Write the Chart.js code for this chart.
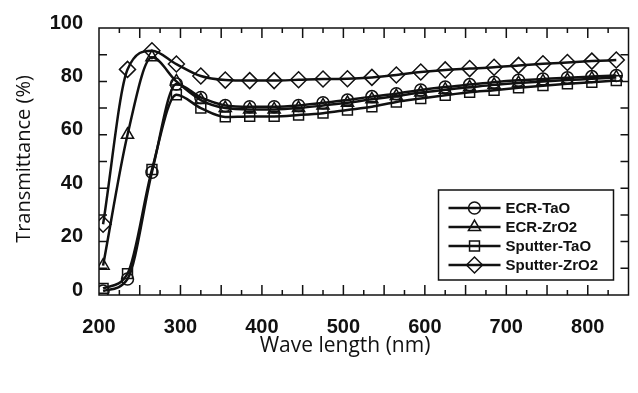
<!DOCTYPE html>
<html>
<head>
<meta charset="utf-8">
<script src="https://cdn.jsdelivr.net/npm/chart.js@4.4.1/dist/chart.umd.min.js"></script>
<style>
  html, body { margin: 0; padding: 0; background: #fff; }
  #wrap { width: 638px; height: 393px; }
</style>
</head>
<body>
<div id="wrap"><canvas id="myChart"></canvas></div>
<script>
// Длины волн (нм) и пропускание (%) по сериям
var wavelengths = [205, 235, 265, 295, 325, 355, 385, 415, 445, 475, 505, 535, 565, 595, 625, 655, 685, 715, 745, 775, 805, 835];
var ecrTaO      = [1.5, 6, 46, 79, 74, 71, 70.5, 70.5, 71, 72, 73, 74.3, 75.4, 76.8, 77.9, 78.8, 79.7, 80.4, 80.9, 81.4, 81.8, 82.2];
var ecrZrO2     = [11, 60, 89, 80, 73, 70, 69.5, 69.5, 70, 71, 72, 73.3, 74.5, 75.8, 76.9, 77.8, 78.7, 79.4, 80, 80.5, 81, 81.5];
var sputterTaO  = [2.5, 8, 47, 75, 70, 66.7, 66.9, 66.9, 67.4, 68.1, 69.3, 70.5, 72.3, 73.6, 74.8, 75.9, 76.7, 77.6, 78.4, 79.1, 79.7, 80.3];
var sputterZrO2 = [26.5, 84.5, 91.5, 86.5, 82, 80.5, 80.3, 80.3, 80.6, 80.9, 81, 81.5, 82.4, 83.5, 84.3, 84.8, 85.3, 86, 86.6, 87.1, 87.6, 88];

var seriesNames = ['ECR-TaO', 'ECR-ZrO2', 'Sputter-TaO', 'Sputter-ZrO2'];
var seriesData = [ecrTaO, ecrZrO2, sputterTaO, sputterZrO2];
var pointStyles = ['circle', 'triangle', 'rect', 'rectRot'];
var pointSizes = [6, 7, 7, 8];

var xTitle = 'Wave length (nm)';
var yTitle = 'Transmittance (%)';

var ink = '#111';
var clear = 'rgba(0,0,0,0)';

var datasets = seriesNames.map(function (name, i) {
    return {
        label: name,
        data: wavelengths.map(function (w, j) { return { x: w, y: seriesData[i][j] }; }),
        borderColor: ink,
        backgroundColor: clear,
        borderWidth: 2.5,
        pointStyle: pointStyles[i],
        pointRadius: pointSizes[i],
        pointBorderWidth: 1.5,
        pointBorderColor: ink,
        pointBackgroundColor: clear,
        cubicInterpolationMode: 'monotone'
    };
});

// Рамка, внутренние засечки, подписи осей и легенда
var frameAndLegend = {
    id: 'frameAndLegend',
    afterDraw: function (chart) {
        var ctx = chart.ctx, a = chart.chartArea;
        var x = chart.scales.x, y = chart.scales.y;
        ctx.save();
        ctx.strokeStyle = ink;
        ctx.lineWidth = 1.5;
        ctx.strokeRect(a.left, a.top, a.right - a.left, a.bottom - a.top);
        ctx.beginPath();
        for (var v = 225; v < 850; v += 25) {
            var px = x.getPixelForValue(v);
            var len = v % 50 === 0 ? 10 : 5;
            ctx.moveTo(px, a.bottom); ctx.lineTo(px, a.bottom - len);
            ctx.moveTo(px, a.top); ctx.lineTo(px, a.top + len);
        }
        for (var t = 10; t < 100; t += 10) {
            var py = y.getPixelForValue(t);
            ctx.moveTo(a.left, py); ctx.lineTo(a.left + 8, py);
            ctx.moveTo(a.right, py); ctx.lineTo(a.right - 8, py);
        }
        ctx.stroke();

        // подписи осей
        ctx.fillStyle = ink;
        ctx.textAlign = 'center';
        ctx.textBaseline = 'middle';
        ctx.font = '21px "Open Sans", sans-serif';
        ctx.fillText(xTitle, a.left + 246, a.bottom + 51);
        ctx.save();
        ctx.translate(24, a.top + 131);
        ctx.rotate(-Math.PI / 2);
        ctx.font = '20px "Open Sans", sans-serif';
        ctx.fillText(yTitle, 0, 0);
        ctx.restore();

        // легенда
        var bx = a.right - 190, by = a.bottom - 105, bw = 175, bh = 90;
        ctx.lineWidth = 1.5;
        ctx.strokeRect(bx, by, bw, bh);
        ctx.font = 'bold 15px "Liberation Sans", sans-serif';
        ctx.textBaseline = 'middle';
        ctx.textAlign = 'left';
        seriesNames.forEach(function (name, i) {
            var ly = by + 18 + i * 19;
            ctx.beginPath();
            ctx.lineWidth = 2.5;
            ctx.moveTo(bx + 10, ly); ctx.lineTo(bx + 62, ly);
            ctx.stroke();
            ctx.lineWidth = 1.5;
            ctx.fillStyle = clear;
            Chart.helpers.drawPoint(ctx, { pointStyle: pointStyles[i], radius: pointSizes[i], rotation: 0, borderWidth: 1.5 }, bx + 36, ly);
            ctx.fillStyle = ink;
            ctx.fillText(name, bx + 67, ly + 1);
        });
        ctx.restore();
    }
};

var ctx = document.getElementById('myChart').getContext('2d');
var myChart = new Chart(ctx, {
    type: 'line',
    data: { datasets: datasets },
    options: {
        responsive: true,
        maintainAspectRatio: false,
        animation: false,
        layout: { padding: { left: 0, right: 5, top: 21, bottom: 0 } },
        plugins: {
            legend: { display: false },
            tooltip: { enabled: false }
        },
        scales: {
            x: {
                type: 'linear',
                min: 200,
                max: 850,
                grid: { display: false, drawTicks: false },
                border: { display: false },
                ticks: {
                    stepSize: 100,
                    includeBounds: false,
                    padding: 20,
                    color: ink,
                    maxRotation: 0,
                    font: { family: '"Liberation Sans", sans-serif', size: 20, weight: 'bold' }
                },
                afterFit: function (scale) { scale.height = 98; }
            },
            y: {
                min: 0,
                max: 100,
                grid: { display: false, drawTicks: false },
                border: { display: false },
                ticks: {
                    stepSize: 20,
                    padding: 16,
                    labelOffset: -5,
                    color: ink,
                    font: { family: '"Liberation Sans", sans-serif', size: 20, weight: 'bold' }
                },
                afterFit: function (scale) { scale.width = 99; }
            }
        }
    },
    plugins: [frameAndLegend]
});
</script>
</body>
</html>
